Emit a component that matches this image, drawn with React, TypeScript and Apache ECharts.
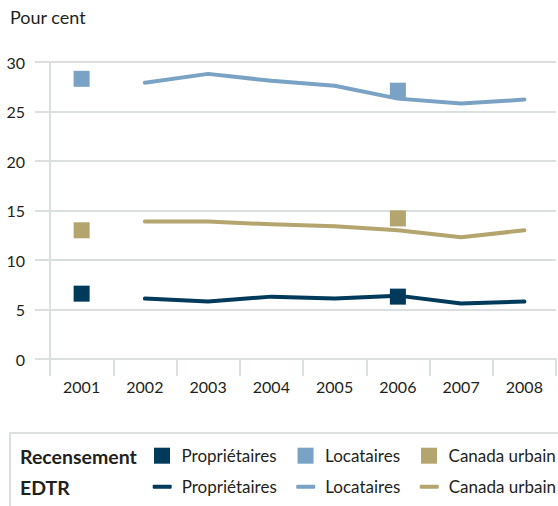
import React, { useEffect, useRef } from "react";
import * as echarts from "echarts";

// Years on the category axis
const years = ["2001", "2002", "2003", "2004", "2005", "2006", "2007", "2008"];

// Census values (2001 and 2006 only)
const censusOwners = [6.6, "-", "-", "-", "-", 6.3, "-", "-"];
const censusRenters = [28.3, "-", "-", "-", "-", 27.1, "-", "-"];
const censusUrban = [13.0, "-", "-", "-", "-", 14.2, "-", "-"];

// EDTR survey values (2002 to 2008)
const edtrOwners = ["-", 6.1, 5.8, 6.3, 6.1, 6.4, 5.6, 5.8];
const edtrRenters = ["-", 27.9, 28.8, 28.1, 27.6, 26.3, 25.8, 26.2];
const edtrUrban = ["-", 13.9, 13.9, 13.6, 13.4, 13.0, 12.3, 13.0];

const seriesLabels = ["Propriétaires", "Locataires", "Canada urbain"];
const yTicks = { min: 0, max: 30, interval: 5 };

const NAVY = "#003a5b";
const BLUE = "#7aa2c4";
const TAN = "#b4a46e";
const GRID = "#dcdfe0";
const TEXT = "#231f20";
const FONT = "Lato";

export default function App() {
  const ref = useRef<HTMLDivElement>(null);

  useEffect(() => {
    if (!ref.current) return;
    const chart = echarts.init(ref.current, undefined, { renderer: "svg" });
    const colors = [NAVY, BLUE, TAN];
    const census = [censusOwners, censusRenters, censusUrban];
    const edtr = [edtrOwners, edtrRenters, edtrUrban];

    const scatterSeries = census.map((d, i) => ({
      name: "R|" + seriesLabels[i],
      type: "scatter",
      data: d,
      symbol: "rect",
      symbolSize: 16,
      itemStyle: { color: colors[i], opacity: 1 },
      z: 5,
    }));
    const lineSeries = edtr.map((d, i) => ({
      name: "E|" + seriesLabels[i],
      type: "line",
      data: d,
      showSymbol: false,
      symbol: "none",
      lineStyle: { color: colors[i], width: 4, cap: "round", join: "round" },
      itemStyle: { color: colors[i] },
      z: 3,
    }));

    const legendText = {
      color: TEXT,
      fontFamily: FONT,
      fontSize: 17,
      lineHeight: 18,
    };

    chart.setOption({
      animation: false,
      textStyle: { fontFamily: FONT },
      grid: { left: 50, right: 2, top: 62, bottom: 147 },
      xAxis: {
        type: "category",
        data: years,
        boundaryGap: true,
        axisLine: { show: true, lineStyle: { color: GRID, width: 2 } },
        axisTick: { show: true, interval: 0, length: 17, lineStyle: { color: GRID, width: 2 } },
        axisLabel: { color: TEXT, fontSize: 16, fontFamily: FONT, margin: 19 },
        splitLine: { show: false },
      },
      yAxis: {
        type: "value",
        min: yTicks.min,
        max: yTicks.max,
        interval: yTicks.interval,
        axisLine: { show: true, lineStyle: { color: GRID, width: 2 } },
        axisTick: { show: true, length: 15, lineStyle: { color: GRID, width: 2 } },
        axisLabel: { color: TEXT, fontSize: 16, fontFamily: FONT, margin: 25 },
        splitLine: { show: true, lineStyle: { color: GRID, width: 2 } },
      },
      legend: [
        {
          left: 154,
          top: 446.7,
          width: 440,
          padding: 0,
          orient: "horizontal",
          data: seriesLabels.map((s) => "R|" + s),
          icon: "rect",
          itemWidth: 16,
          itemHeight: 16,
          itemGap: 21,
          selectedMode: false,
          formatter: (n: string) => n.split("|")[1],
          itemStyle: { opacity: 1 },
          textStyle: { ...legendText, padding: [0, 0, 0, 6.5] },
        },
        {
          left: 152.7,
          top: 477.7,
          width: 440,
          padding: 0,
          orient: "horizontal",
          data: seriesLabels.map((s) => "E|" + s),
          icon: "roundRect",
          itemWidth: 19,
          itemHeight: 4,
          itemGap: 19.5,
          selectedMode: false,
          formatter: (n: string) => n.split("|")[1],
          textStyle: { ...legendText, padding: [0, 0, 0, 5] },
        },
      ],
      graphic: [
        {
          type: "text",
          left: 10,
          top: 8,
          style: { text: "Pour cent", fill: TEXT, font: `18px ${FONT}` },
        },
        {
          type: "rect",
          shape: { x: 10, y: 433, width: 560, height: 90 },
          style: { fill: "none", stroke: GRID, lineWidth: 2 },
          silent: true,
        },
        {
          type: "text",
          x: 20,
          y: 456,
          style: {
            text: "Recensement",
            fill: TEXT,
            font: `bold 19.5px ${FONT}`,
            verticalAlign: "middle",
          },
        },
        {
          type: "text",
          x: 20,
          y: 487,
          style: {
            text: "EDTR",
            fill: TEXT,
            font: `bold 19.5px ${FONT}`,
            verticalAlign: "middle",
          },
        },
      ],
      series: [...lineSeries, ...scatterSeries],
    });

    return () => chart.dispose();
  }, []);

  return <div ref={ref} style={{ width: 558, height: 506, position: "absolute", left: 0, top: 0 }} />;
}
